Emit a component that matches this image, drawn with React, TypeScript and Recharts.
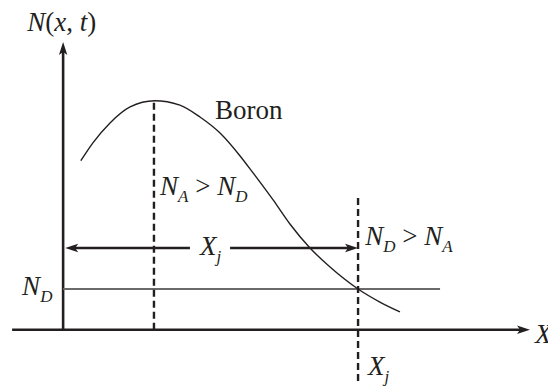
import React from 'react';
import { ComposedChart, Line, Scatter, XAxis, YAxis, ReferenceLine } from 'recharts';

// Boron profile N(x, t): depth (junction depth Xj = 10) and concentration
const boronDepth = [0.6, 1.01, 1.59, 2.27, 3.1, 3.96, 4.64, 5.32, 6.0, 6.44, 7.12, 7.69, 8.37, 9.05, 10.0, 10.74, 11.42];
const boronConc = [7.38, 8.16, 9.03, 9.73, 10.0, 9.81, 9.29, 8.59, 7.59, 6.85, 5.67, 4.62, 3.57, 2.74, 1.78, 1.21, 0.78];

const peakDepth = 3.1;
const peakConc = 10;
const junctionDepth = 10;
const donorLevel = 1.78;

const boronData = boronDepth.map((x, i) => ({ x, y: boronConc[i] }));

// plot frame
const X_DOMAIN: [number, number] = [-2.14, 16.44];
const Y_DOMAIN: [number, number] = [-2.5, 14.4];
const X_AXIS_START = -1.73;
const X_AXIS_TIP = 15.83;
const Y_AXIS_TIP = 12.57;
const DONOR_LINE_END = 12.78;
const XJ_ARROW_Y = 3.57;
const XJ_GAP: [number, number] = [4.3, 5.66];
const XJ_DASH_TOP = 5.75;
const XJ_DASH_BOTTOM = -2.28;

const INK = '#231f20';
const FONT = '"Liberation Serif", "Times New Roman", serif';

type Part = { t: string; i?: boolean; sub?: boolean };

const labels: { x: number; y: number; parts: Part[] }[] = [
  { x: -1.22, y: 13.05, parts: [{ t: 'N', i: true }, { t: '(' }, { t: 'x', i: true }, { t: ', ' }, { t: 't', i: true }, { t: ')' }] },
  { x: 5.15, y: 9.2, parts: [{ t: 'Boron' }] },
  { x: 3.285, y: 5.88, parts: [{ t: 'N', i: true }, { t: 'A', i: true, sub: true }, { t: ' > ' }, { t: 'N', i: true }, { t: 'D', i: true, sub: true }] },
  { x: 10.24, y: 3.7, parts: [{ t: 'N', i: true }, { t: 'D', i: true, sub: true }, { t: ' > ' }, { t: 'N', i: true }, { t: 'A', i: true, sub: true }] },
  { x: -1.39, y: 1.52, parts: [{ t: 'N', i: true }, { t: 'D', i: true, sub: true }] },
  { x: 4.64, y: 3.26, parts: [{ t: 'X', i: true }, { t: 'j', i: true, sub: true }] },
  { x: 10.34, y: -1.98, parts: [{ t: 'X', i: true }, { t: 'j', i: true, sub: true }] },
  { x: 16.0, y: -0.58, parts: [{ t: 'X', i: true }] },
];

const arrowHeads = [
  { x: 0, y: Y_AXIS_TIP, angle: -90 },
  { x: X_AXIS_TIP, y: 0, angle: 0 },
  { x: 0.07, y: XJ_ARROW_Y, angle: 180 },
  { x: junctionDepth, y: XJ_ARROW_Y, angle: 0 },
];

const renderLabel = (props: any) => {
  const { cx, cy, payload } = props;
  const nodes: React.ReactNode[] = [];
  let shifted = false;
  payload.parts.forEach((p: Part, k: number) => {
    let dy = 0;
    if (p.sub && !shifted) { dy = 7; shifted = true; }
    else if (!p.sub && shifted) { dy = -7; shifted = false; }
    nodes.push(
      <tspan key={k} dy={dy || undefined} fontStyle={p.i ? 'italic' : 'normal'} fontSize={p.sub ? 17 : 27}>
        {p.t}
      </tspan>
    );
  });
  return (
    <text x={cx} y={cy} fill={INK} fontFamily={FONT} fontSize={27} style={{ whiteSpace: 'pre' }}>
      {nodes}
    </text>
  );
};

const renderArrow = (props: any) => {
  const { cx, cy, payload } = props;
  return (
    <path
      d="M0,0 L-13,-4.2 L-10,0 L-13,4.2 Z"
      transform={`translate(${cx},${cy}) rotate(${payload.angle})`}
      fill={INK}
    />
  );
};

export default function App() {
  return (
    <div style={{ position: 'absolute', left: 0, top: 0, background: '#fff' }}>
      <ComposedChart width={548} height={387} margin={{ top: 0, right: 0, bottom: 0, left: 0 }}>
        <XAxis type="number" dataKey="x" domain={X_DOMAIN} allowDataOverflow hide />
        <YAxis type="number" dataKey="y" domain={Y_DOMAIN} allowDataOverflow hide />

        {/* axes */}
        <ReferenceLine segment={[{ x: X_AXIS_START, y: 0 }, { x: X_AXIS_TIP - 0.3, y: 0 }]} stroke={INK} strokeWidth={2.6} />
        <ReferenceLine segment={[{ x: 0, y: 0 }, { x: 0, y: Y_AXIS_TIP - 0.4 }]} stroke={INK} strokeWidth={2.6} />

        {/* donor background level */}
        <ReferenceLine segment={[{ x: 0, y: donorLevel }, { x: DONOR_LINE_END, y: donorLevel }]} stroke="#6a6a6a" strokeWidth={1.8} />

        {/* peak and junction markers */}
        <ReferenceLine segment={[{ x: peakDepth - 0.02, y: 0 }, { x: peakDepth - 0.02, y: peakConc }]} stroke={INK} strokeWidth={2.4} strokeDasharray="7 4" />
        <ReferenceLine segment={[{ x: junctionDepth, y: XJ_DASH_TOP }, { x: junctionDepth, y: XJ_DASH_BOTTOM }]} stroke={INK} strokeWidth={2.4} strokeDasharray="7 4" />

        {/* junction depth dimension */}
        <ReferenceLine segment={[{ x: 0.3, y: XJ_ARROW_Y }, { x: XJ_GAP[0], y: XJ_ARROW_Y }]} stroke={INK} strokeWidth={2.6} />
        <ReferenceLine segment={[{ x: XJ_GAP[1], y: XJ_ARROW_Y }, { x: junctionDepth - 0.3, y: XJ_ARROW_Y }]} stroke={INK} strokeWidth={2.6} />

        <Line data={boronData} dataKey="y" type="monotone" stroke={INK} strokeWidth={1.4} dot={false} activeDot={false} isAnimationActive={false} />

        <Scatter data={arrowHeads} dataKey="y" shape={renderArrow} isAnimationActive={false} />
        <Scatter data={labels} dataKey="y" shape={renderLabel} isAnimationActive={false} />
      </ComposedChart>
    </div>
  );
}
